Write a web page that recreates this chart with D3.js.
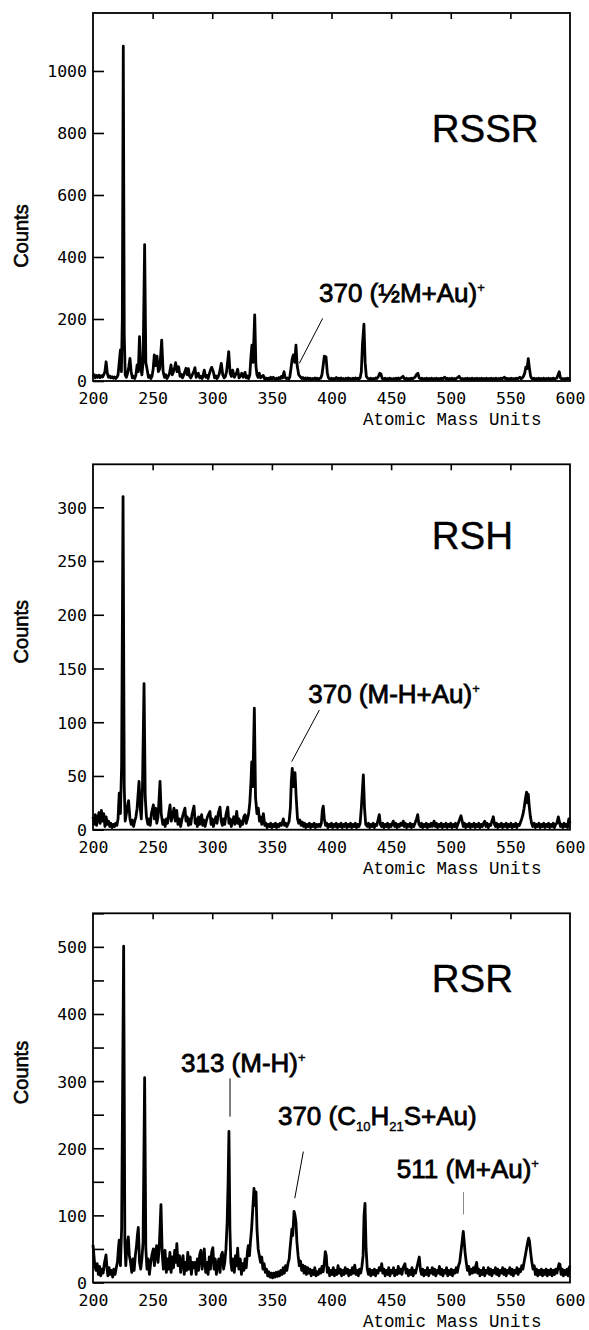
<!DOCTYPE html>
<html>
<head>
<meta charset="utf-8">
<script src="https://cdn.jsdelivr.net/npm/d3@7"></script>
<style>
    body { margin: 0; background: #fff; }
    .frame { fill: none; stroke: #000; stroke-width: 1.8; }
    .tick text { font-family: "DejaVu Sans Mono", monospace; font-size: 16.5px; fill: #000; }
    .tick line { stroke: #000; stroke-width: 1.6; }
    .domain { display: none; }
    .spectrum { fill: none; stroke: #000; stroke-width: 2.8; stroke-linejoin: round; }
    .axisTitle { font-family: "Liberation Mono", monospace; font-size: 17.5px; fill: #000; }
    .countsLabel { font-family: "Liberation Sans", Arial, sans-serif; font-size: 20px; stroke: #000; stroke-width: 0.6; }
    .panelTitle { font-family: "Liberation Sans", Arial, sans-serif; font-size: 38.5px; fill: #000; stroke: #000; stroke-width: 0.4; }
    .annot { font-family: "Liberation Sans", Arial, sans-serif; font-size: 26px; fill: #000; stroke: #000; stroke-width: 0.8; }
    .leader { stroke: #000; stroke-width: 1; }
</style>
</head>
<body>
<script>
// Anonymous function to keep all variables local
(function(){

    //x axis values (atomic mass units)
    var massTicks = [200, 250, 300, 350, 400, 450, 500, 550, 600];
    var topTicks = [250, 300, 350, 400, 450, 500, 550];

    //y axis values per panel
    var rssrTicks = [0, 200, 400, 600, 800, 1000];
    var rshTicks = [0, 50, 100, 150, 200, 250, 300];
    var rsrTicks = [0, 50, 100, 150, 200, 250, 300, 350, 400, 450, 500, 550];
    var rsrLabels = [0, 100, 200, 300, 400, 500];

    //spectra, [mass, counts]
    var rssrSpectrum = [[200,14],[201,20],[202,10],[203,18],[204,12],[205,19],[206,11],[207,17],[208,13],[209,20],[210,30],[211,62],[212,25],[213,12],[214,16],[215,10],[216,14],[217,9],[218,13],[219,8],[220,12],[221,20],[222,60],[223,100],[223.8,30],[224.6,200],[225.4,1080],[226.2,150],[227,20],[228,12],[229,25],[230,45],[231,73],[232,30],[233,10],[234,15],[235,8],[236,20],[237,52],[238,30],[239,143],[240,45],[241,20],[242,60],[243.3,440],[244.3,60],[245.5,35],[246.5,12],[247.5,18],[248.5,8],[249.5,15],[250.5,40],[251.4,84],[252.5,50],[253.7,80],[254.8,30],[256,40],[257.6,132],[258.8,30],[260,12],[261,20],[262,8],[263,15],[264,22],[265.4,52],[266.5,20],[267.5,30],[268.5,45],[269.3,59],[270.5,30],[271.8,46],[273,15],[274,22],[275,10],[276,18],[277,30],[278,41],[279,20],[280,40],[281,15],[282,10],[283,18],[284.5,30],[285.5,43],[286.5,12],[287.5,20],[288.3,25],[289.5,10],[290.5,15],[291.5,8],[292.5,20],[293.3,35],[294.5,12],[295.5,18],[296.5,8],[297.5,22],[298.5,35],[299.5,44],[300.9,30],[302,10],[303,16],[304,8],[305,14],[306,25],[307.6,57],[308.8,20],[310,10],[311,15],[312,30],[313.8,95],[315,25],[316,15],[317.1,35],[318.5,12],[319.5,20],[320.5,28],[321.3,38],[322.5,10],[323.5,15],[324.7,25],[326,12],[327.5,28],[328.5,10],[329.5,16],[330.5,8],[331.5,20],[332.5,80],[333.3,116],[334.2,60],[335.6,213],[336.6,50],[337.5,20],[338.5,12],[339.5,25],[340.5,10],[341.5,14],[342.8,18],[344,6],[345,10],[346,5],[347,9],[348,6],[349,12],[350,7],[351.2,12],[352.5,5],[354,9],[355,6],[356,11],[357,7],[358,15],[359,10],[360.2,30],[361,12],[362,8],[363,10],[364,6],[365,12],[366,40],[367,70],[368,84],[369.2,60],[370.2,116],[371.2,50],[372.5,20],[373.6,15],[375,8],[376,11],[377,6],[378,10],[379,7],[380,10],[381,6],[382,9],[383,5],[384,8],[385,6],[386,10],[387,7],[388,9],[389,5],[390,8],[391,10],[392,20],[393,50],[394,80],[395.4,78],[396.5,25],[397.5,10],[398.5,6],[400,9],[401,5],[402,8],[403,6],[404,11],[405,7],[406,9],[407,5],[408,10],[409,6],[410,8],[411,5],[412,9],[413,6],[414,10],[415,7],[416,8],[417,5],[418,9],[419,6],[420,10],[421,7],[422,9],[423,6],[424,10],[425,30],[426,120],[427.2,183],[428.2,60],[429.2,15],[430.5,8],[432,6],[433,9],[434,5],[435,8],[436,6],[437,10],[438,8],[439,12],[440.5,25],[441.5,22],[442.5,8],[444,6],[445,9],[446,5],[447,8],[448,6],[449,9],[450,7],[451,5],[452,8],[453,6],[454,9],[455,6],[456,10],[457,7],[458,9],[459,12],[460,15],[461,8],[462,6],[463,9],[464,5],[465,8],[466,6],[467,9],[468,7],[469,10],[470,12],[471.5,22],[472.5,25],[473.5,10],[475,6],[476,9],[477,5],[478,8],[479,6],[480,9],[481,5],[482,8],[483,6],[484,9],[485,5],[486,8],[487,6],[488,9],[489,5],[490,8],[491,6],[492,9],[493,5],[494,10],[495,12],[496,7],[497,9],[498,5],[499,8],[500,6],[501,9],[502,5],[503,8],[504,6],[505,9],[506,12],[507,15],[508,9],[509,6],[510,8],[511,5],[512,8],[513,6],[514,9],[515,5],[516,8],[517,6],[518,9],[519,5],[520,8],[521,6],[522,9],[523,5],[524,8],[525,6],[526,9],[527,5],[528,8],[529,6],[530,9],[531,5],[532,8],[533,6],[534,9],[535,5],[536,8],[537,6],[538,9],[539,5],[540,8],[541,6],[542,9],[543,6],[544,10],[545,12],[546,7],[547,9],[548,5],[549,8],[550,6],[551,9],[552,5],[553,8],[554,6],[555,9],[556,6],[557,10],[558,12],[559,7],[560,10],[561,15],[562,25],[563,45],[564,40],[565,72],[566,40],[567,15],[568,8],[569,6],[570,9],[571,5],[572,8],[573,6],[574,9],[575,5],[576,8],[577,6],[578,9],[579,5],[580,8],[581,6],[582,9],[583,5],[584,8],[585,6],[586,9],[587,6],[588,8],[589,10],[590,20],[591,30],[592,10],[593,6],[594,8],[595,5],[596,8],[597,6],[598,9],[599,7],[600,10]];

    var rshSpectrum = [[200,12],[201,5],[202,14],[203,4],[204,10],[205,16],[206,6],[207,18],[208,8],[209,15],[210,3],[211,12],[212,5],[213,8],[214,3],[215,6],[216,2],[217,5],[218,3],[219,6],[220,4],[221,10],[222,34],[223,15],[224,60],[225.2,310],[226.2,40],[227,8],[228,15],[229,22],[229.8,27],[231,10],[232,5],[233,9],[234,3],[235,8],[236,12],[237,20],[238.6,45],[239.6,20],[240.5,10],[241.5,40],[242.8,136],[243.8,30],[244.8,12],[246,5],[247,10],[248,4],[249,15],[250.6,23],[251.5,10],[252.5,20],[253.5,6],[254.5,12],[255.5,30],[256.2,45],[257.2,15],[258.5,5],[259.5,9],[260.5,3],[261.5,10],[262.5,6],[263.5,15],[264.6,23],[265.6,8],[266.5,12],[267.9,20],[269,8],[270.2,18],[271.2,5],[272.5,10],[273.5,3],[274.5,9],[275.5,14],[277.1,20],[278,8],[279,12],[280,4],[281,10],[282,5],[283,14],[284.7,22],[285.7,6],[286.5,10],[287.5,3],[288.5,12],[289.5,5],[291.1,14],[292,4],[293,9],[294,3],[295,8],[296,12],[298.1,17],[299,5],[300,10],[301,3],[302,8],[303,12],[304,6],[305,15],[306.5,21],[307.5,8],[308.5,4],[309.5,10],[310.5,5],[311.5,14],[313,21],[314,6],[315,10],[316,3],[317,8],[318,12],[319,5],[320.5,17],[321.5,6],[322.5,10],[323.5,3],[324.5,8],[325.5,5],[326.5,12],[327.5,14],[328.5,6],[329.5,10],[330.5,15],[331.5,25],[332.5,45],[333.1,63],[334,40],[335.3,113],[336.3,30],[337.5,15],[338.6,20],[339.6,8],[340.5,12],[341.5,5],[342.9,15],[344,4],[345,6],[346,2],[347,5],[348,3],[349,6],[350,2],[351,5],[352,3],[353,6],[354,2],[355,5],[356,3],[357,6],[358,4],[359.6,10],[360.6,4],[361.5,6],[362.5,3],[363.5,5],[364.5,8],[365.5,20],[366.3,45],[367.1,57],[368.1,40],[369.4,53],[370.4,30],[371.5,10],[372.5,6],[373.5,9],[374.5,4],[375.5,7],[376.5,3],[377.5,6],[378.5,2],[379.5,5],[380.5,3],[381.5,6],[382.5,2],[383.5,5],[384.5,3],[385.5,6],[386.5,2],[387.5,5],[388.5,3],[389.5,5],[390.5,3],[391.5,6],[392.3,18],[393.1,22],[394,10],[395,4],[396,6],[397,2],[398,5],[399,3],[400,6],[401,2],[402,5],[403,3],[404,6],[405,2],[406,5],[407,3],[408,6],[409,2],[410,5],[411,3],[412,6],[413,2],[414,5],[415,3],[416,6],[417,2],[418,5],[419,3],[420,6],[421,2],[422,5],[423,3],[424,6],[425,20],[426.7,51],[427.7,20],[428.7,5],[430,3],[431,6],[432,2],[433,5],[434,3],[435,6],[436,2],[437,5],[438,4],[439,9],[440.1,14],[441,5],[442,3],[443,6],[444,2],[445,5],[446,3],[447,6],[448,2],[449,5],[450,3],[451,6],[451.8,8],[453,3],[454,6],[455,2],[456,5],[457,3],[458,6],[459,4],[460.2,8],[461,3],[462,6],[463,2],[464,5],[465,3],[466,6],[467,2],[468,5],[469,3],[470,6],[471.3,10],[472.3,14],[473.3,5],[474.5,3],[475.5,6],[476.5,2],[477.5,5],[478.5,3],[479.5,6],[480.5,2],[481.5,5],[482.5,3],[483.5,6],[484.5,3],[486,8],[487,3],[488,6],[489,2],[490,5],[491,3],[492,6],[493,2],[494,5],[495,3],[496,6],[497,2],[498,5],[499,3],[500,6],[501,2],[502,5],[503,3],[504,6],[505,2],[506,5],[507,8],[508.6,13],[509.6,8],[510.5,3],[511.5,6],[512.5,2],[513.5,5],[514.5,3],[515.5,6],[516.5,2],[517.5,5],[518.5,3],[519.5,6],[520.5,2],[521.5,5],[522.5,3],[523.5,6],[524.5,2],[525.5,5],[526.5,3],[527.5,6],[528.5,8],[529.5,3],[530.5,6],[531.5,2],[532.5,5],[533.5,4],[534.5,8],[535.7,12],[536.7,5],[537.5,3],[538.5,6],[539.5,2],[540.5,5],[541.5,3],[542.5,6],[543.5,2],[544.5,5],[545.5,3],[546.5,6],[547.5,2],[548.5,5],[549.5,3],[550.5,6],[551.5,2],[552.5,5],[553.5,3],[554.5,6],[555.5,2],[556.5,5],[557.5,4],[558.5,7],[559.5,10],[560.5,14],[561.5,20],[562.5,28],[563.6,35],[564.3,25],[565,33],[565.8,22],[566.8,12],[567.8,6],[568.8,3],[570,6],[571,2],[572,5],[573,3],[574,6],[575,2],[576,5],[577,3],[578,6],[579,2],[580,5],[581,3],[582,6],[583,2],[584,5],[585,3],[586,6],[587,2],[588,5],[589,6],[590.2,12],[591,8],[592,3],[593,5],[594,2],[595,6],[596,3],[597,5],[598,2],[599,10],[600,6]];

    var rsrSpectrum = [[200,56],[200.8,40],[201.5,25],[202.5,18],[203.5,28],[204.5,12],[205.5,24],[206.5,10],[207.5,20],[208.5,14],[209.5,28],[210.9,41],[211.8,20],[212.5,10],[213.5,22],[214.5,12],[215.5,18],[216.5,8],[217.5,20],[218.5,12],[219.5,22],[220.5,30],[221.3,50],[222,63],[223,25],[224,80],[225.7,501],[226.7,60],[227.5,25],[228.5,55],[229.6,68],[230.5,40],[231.5,30],[232.5,15],[233.5,35],[234.5,18],[235.5,40],[236.5,55],[237.2,70],[238,82],[239,30],[240,20],[241,35],[242,60],[243.3,305],[244.3,50],[245.3,20],[246.3,35],[247.3,12],[248.3,28],[249.3,40],[250.6,50],[251.5,25],[252.5,45],[253.4,55],[254.5,30],[255.5,50],[256.2,80],[257,116],[258,45],[259,20],[260.4,48],[261.5,15],[262.5,35],[263.5,20],[264.5,45],[265.5,15],[266.5,38],[267.5,22],[268.5,48],[269.5,30],[270.3,58],[271.3,25],[272.5,40],[273.5,15],[274.5,32],[275.5,40],[276.5,12],[277.5,30],[278.5,18],[279.5,45],[280.5,20],[281.5,38],[282.5,12],[283.5,30],[284.5,22],[285.5,30],[286.5,12],[287.5,35],[288.5,18],[289.5,42],[290.5,48],[291.5,20],[292.5,35],[293.3,50],[294.5,15],[295.5,30],[296.5,12],[297.5,38],[298.5,20],[299.5,45],[300.5,52],[301.5,20],[302.5,35],[303.5,12],[304.5,28],[305.5,35],[306.5,15],[307.5,40],[308.5,45],[309.5,20],[310.5,30],[311.5,50],[312.5,90],[313.3,150],[314,225],[314.8,80],[315.6,30],[316.5,18],[317.5,35],[318.5,15],[319.5,40],[320.5,25],[321.3,51],[322.3,20],[323.5,35],[324.5,12],[325.5,28],[326.5,18],[327.5,35],[328.5,22],[329.5,45],[330.2,55],[331.2,40],[332,60],[333,80],[334,110],[335,140],[336,115],[336.7,135],[337.5,80],[338.5,50],[339.5,40],[340.5,30],[341.5,38],[342.5,20],[343.5,28],[344.5,15],[345.5,20],[346.5,10],[347.5,16],[348.5,8],[349.5,14],[350.5,7],[351.5,14],[352.5,8],[353.5,15],[354.5,9],[355.5,16],[356.5,10],[357.5,18],[358.5,12],[359.5,22],[360.5,14],[361.5,25],[362.5,18],[363.5,28],[364.5,35],[365.2,50],[366,65],[366.8,80],[367.5,70],[368.6,106],[369.4,100],[370.2,90],[371,60],[372,40],[373,25],[374,32],[375,18],[376,26],[377,14],[378,24],[379,12],[380,22],[381,14],[382,20],[383,10],[384,18],[385,12],[386,22],[387,10],[388,16],[389,12],[390,20],[391,14],[392,24],[393,16],[394,30],[394.8,46],[395.6,40],[396.5,15],[397.5,22],[398.5,10],[399.5,18],[400.5,12],[401.5,22],[402.5,10],[403.5,18],[404.5,12],[405.5,25],[406.5,14],[407.5,20],[408.5,10],[409.5,18],[410.5,12],[411.5,22],[412.5,14],[413.5,20],[414.5,10],[415.5,18],[416.5,12],[417.5,22],[418.5,14],[419.5,26],[420.5,12],[421.5,18],[422.5,10],[423.5,20],[424.5,14],[425.5,24],[426.5,40],[427.3,100],[428.1,118],[429,50],[430,20],[431,12],[432,20],[433,10],[434,18],[435,12],[436,20],[437,10],[438,18],[439,14],[440,22],[441,18],[442.1,28],[443,14],[444,20],[445,10],[446,18],[447,12],[448,22],[449,10],[450,18],[451,14],[452,22],[453,10],[454,18],[455,12],[456,24],[457,14],[458,20],[459,12],[460,22],[461.6,28],[462.5,14],[463.5,20],[464.5,10],[465.5,18],[466.5,12],[467.5,22],[468.5,10],[469.5,18],[470.5,14],[471.5,22],[472.6,30],[473.6,38],[474.6,18],[475.5,12],[476.5,20],[477.5,10],[478.5,18],[479.5,12],[480.5,22],[481.5,10],[482.5,18],[483.5,14],[484.5,22],[485.5,12],[486.5,20],[487.5,10],[488.5,18],[489.5,14],[490.5,24],[491.5,12],[492.5,20],[493.5,10],[494.5,18],[495.5,14],[496.5,22],[497.5,10],[498.5,18],[499.5,12],[500.5,20],[501.5,10],[502.5,18],[503.5,14],[504.5,22],[505.5,15],[506.5,25],[507.5,30],[508.5,45],[509.5,60],[510.5,76],[511.3,60],[512,45],[513,30],[514,18],[515,24],[516,12],[517,20],[518,14],[519,22],[520,15],[521,25],[521.7,30],[522.5,14],[523.5,20],[524.5,10],[525.5,18],[526.5,12],[527.5,22],[528.5,10],[529.5,18],[530.5,14],[531.5,22],[532.5,12],[533.5,20],[534.5,10],[535.5,18],[536.5,14],[537.5,22],[538.5,12],[539.5,20],[540.5,10],[541.5,18],[542.5,14],[543.5,22],[544.5,12],[545.5,20],[546.5,10],[547.5,18],[548.5,14],[549.5,22],[550.5,12],[551.5,20],[552.5,10],[553.5,18],[554.5,14],[555.5,22],[556.5,12],[557.5,20],[558.5,16],[559.5,25],[560.5,20],[561.5,30],[562.5,40],[563.5,50],[564.5,60],[565.3,66],[566,62],[567,45],[568,30],[569,20],[570,25],[571,12],[572,20],[573,10],[574,18],[575,12],[576,20],[577,10],[578,18],[579,12],[580,20],[581,10],[582,18],[583,12],[584,20],[585,10],[586,18],[587,12],[588,20],[589,14],[590,22],[590.8,28],[591.6,27],[592.5,12],[593.5,20],[594.5,10],[595.5,18],[596.5,12],[597.5,20],[598.5,10],[599.3,22],[600,25]];

    //peak labels: text parts, text anchor [mass, counts], leader line ends [mass, counts]
    var rssrNotes = [
        {parts: [["370 (\u00BDM+Au)", ""], ["+", "sup"]], at: [389.5, 255], line: [[392.6, 202], [373, 57]], grey: false}
    ];
    var rshNotes = [
        {parts: [["370 (M-H+Au)", ""], ["+", "sup"]], at: [380.5, 117.6], line: [[389.8, 111.3], [366.6, 63.3]], grey: false}
    ];
    var rsrNotes = [
        {parts: [["313 (M-H)", ""], ["+", "sup"]], at: [273.8, 314], line: [[314.9, 304], [314.9, 247]], grey: false},
        {parts: [["370 (C", ""], ["10", "sub"], ["H", ""], ["21", "sub"], ["S+Au)", ""]], at: [355.1, 234.7], line: [[376.4, 195], [369.2, 125.5]], grey: false},
        {parts: [["511 (M+Au)", ""], ["+", "sup"]], at: [454.7, 155.3], line: [[510.7, 134.9], [510.7, 101.3]], grey: true}
    ];

    //page and panel layout
    var svgWidth = 589,
        svgHeight = 1330,
        leftEdge = 93,
        rightEdge = 570;

    var panels = [
        {title: "RSSR", data: rssrSpectrum, ticks: rssrTicks, labels: rssrTicks, yMax: 1187, top: 13, bottom: 381, countsY: 236, titleY: 141.7, notes: rssrNotes},
        {title: "RSH", data: rshSpectrum, ticks: rshTicks, labels: rshTicks, yMax: 340, top: 464.3, bottom: 829.7, countsY: 631.7, titleY: 549.3, notes: rshNotes},
        {title: "RSR", data: rsrSpectrum, ticks: rsrTicks, labels: rsrLabels, yMax: 550, top: 913.3, bottom: 1282.5, countsY: 1072.5, titleY: 991.7, notes: rsrNotes}
    ];

    var svg = d3.select("body")
        .append("svg")
        .attr("width", svgWidth)
        .attr("height", svgHeight);

    var x = d3.scaleLinear()
        .domain([200, 600])
        .range([leftEdge, rightEdge]);

    panels.forEach(function(p){
        drawPanel(p);
    });

    function drawPanel(p){
        var y = d3.scaleLinear()
            .domain([0, p.yMax])
            .range([p.bottom, p.top]);

        var g = svg.append("g");

        //the spectrum trace
        var line = d3.line()
            .x(function(d){ return x(d[0]); })
            .y(function(d){ return y(d[1]); });

        g.append("path")
            .datum(p.data)
            .attr("class", "spectrum")
            .attr("d", line);

        //left axis, ticks pointing inward
        g.append("g")
            .attr("transform", "translate(" + leftEdge + ",0)")
            .call(d3.axisLeft(y)
                .tickValues(p.ticks)
                .tickSize(-11)
                .tickPadding(6)
                .tickFormat(function(d){
                    return p.labels.indexOf(d) >= 0 ? d : "";
                }))
            .selectAll("text")
            .attr("dy", "0.36em");

        //top axis, just ticks
        g.append("g")
            .attr("transform", "translate(0," + p.top + ")")
            .call(d3.axisTop(x)
                .tickValues(topTicks)
                .tickSize(-6)
                .tickFormat(""));

        //bottom axis, labels only
        g.append("g")
            .attr("transform", "translate(0," + p.bottom + ")")
            .call(d3.axisBottom(x)
                .tickValues(massTicks)
                .tickSize(0)
                .tickPadding(11.5)
                .tickFormat(d3.format("d")));

        //frame
        g.append("rect")
            .attr("class", "frame")
            .attr("x", leftEdge)
            .attr("y", p.top)
            .attr("width", rightEdge - leftEdge)
            .attr("height", p.bottom - p.top);

        g.append("text")
            .attr("class", "axisTitle")
            .attr("x", 363)
            .attr("y", p.bottom + 44)
            .text("Atomic Mass Units");

        g.append("text")
            .attr("class", "countsLabel")
            .attr("text-anchor", "middle")
            .attr("transform", "translate(27.5," + p.countsY + ") rotate(-90)")
            .text("Counts");

        g.append("text")
            .attr("class", "panelTitle")
            .attr("x", 431.7)
            .attr("y", p.titleY)
            .text(p.title);

        //peak labels
        p.notes.forEach(function(n){
            g.append("line")
                .attr("class", "leader")
                .attr("x1", x(n.line[0][0]))
                .attr("y1", y(n.line[0][1]))
                .attr("x2", x(n.line[1][0]))
                .attr("y2", y(n.line[1][1]))
                .style("stroke", n.grey ? "#8a8a8a" : "#000");

            var t = g.append("text")
                .attr("class", "annot")
                .attr("x", x(n.at[0]))
                .attr("y", y(n.at[1]));

            var shift = 0;
            n.parts.forEach(function(part){
                var target = part[1] == "sup" ? -10 : (part[1] == "sub" ? 6 : 0);
                var s = t.append("tspan")
                    .attr("dy", target - shift)
                    .text(part[0]);
                if (part[1] != ""){
                    s.style("font-size", "13px").style("stroke-width", 0.4);
                }
                shift = target;
            });
        });
    };

}) ();
</script>
</body>
</html>
